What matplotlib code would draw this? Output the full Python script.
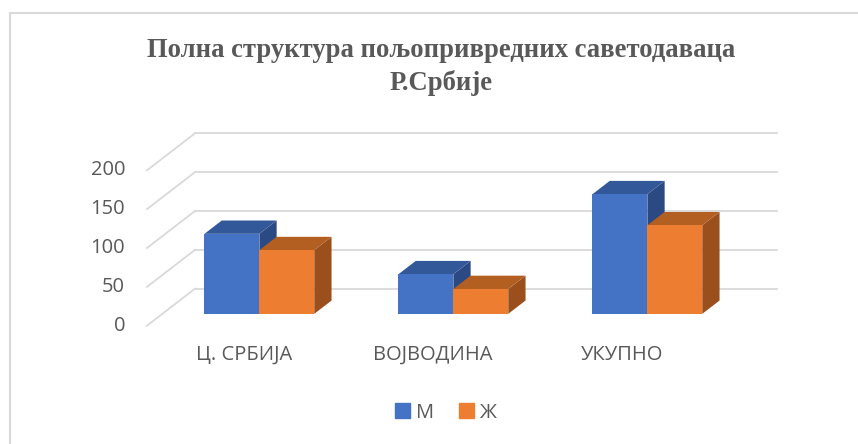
import matplotlib.pyplot as plt
from matplotlib.patches import Polygon, Rectangle, Patch

categories = ['Ц. СРБИЈА', 'ВОЈВОДИНА', 'УКУПНО']
series_names = ['М', 'Ж']
male = [103, 51, 154]
female = [82, 32, 114]
yticks = [0, 50, 100, 150, 200]

front_cols = ['#4472C4', '#ED7D31']
top_cols = ['#33589A', '#B45F22']
side_cols = ['#2B4A84', '#9A4F1C']

# oblique "3d" offsets in data units (full depth of the walls)
DX, DY = 0.2474, 47.6
Z0, Z1 = 0.32, 0.68   # bar depth range
BW = 0.283            # bar width in category units
GRID = '#d9d9d9'
TXT = '#595959'

fig = plt.figure(figsize=(8.58, 4.44), dpi=100)
ax = fig.add_axes([0, 0, 1, 1])
ax.set_xlim(-1.2577, 3.1649)
ax.set_ylim(-152.3, 419.2)
ax.axis('off')

# walls / gridlines
for v in yticks:
    ax.plot([-0.5, -0.5 + DX], [v, v + DY], color=GRID, lw=1.3, zorder=1)
    ax.plot([-0.5 + DX, 2.5 + DX], [v + DY, v + DY], color=GRID, lw=1.3, zorder=1)
    ax.text(-0.613, v, str(v), ha='right', va='center', fontsize=14.5,
            color=TXT, family='Open Sans')


def bar3d(x0, v, k):
    x1 = x0 + BW
    f = [(x0 + Z0 * DX, Z0 * DY), (x1 + Z0 * DX, Z0 * DY),
         (x1 + Z0 * DX, v + Z0 * DY), (x0 + Z0 * DX, v + Z0 * DY)]
    t = [(x0 + Z0 * DX, v + Z0 * DY), (x1 + Z0 * DX, v + Z0 * DY),
         (x1 + Z1 * DX, v + Z1 * DY), (x0 + Z1 * DX, v + Z1 * DY)]
    s = [(x1 + Z0 * DX, Z0 * DY), (x1 + Z1 * DX, Z1 * DY),
         (x1 + Z1 * DX, v + Z1 * DY), (x1 + Z0 * DX, v + Z0 * DY)]
    ax.add_patch(Polygon(s, closed=True, fc=side_cols[k], ec='none', zorder=3))
    ax.add_patch(Polygon(t, closed=True, fc=top_cols[k], ec='none', zorder=3))
    ax.add_patch(Polygon(f, closed=True, fc=front_cols[k], ec='none', zorder=3))


for i in range(len(categories)):
    bar3d(i - BW, male[i], 0)
    bar3d(i, female[i], 1)
    ax.text(i * 0.975, -37.7, categories[i], ha='center', va='center',
            fontsize=14.5, color=TXT, family='Open Sans')

fig.text(441.5 / 858, 1 - 67 / 444,
         'Полна структура пољопривредних саветодаваца\nР.Србије',
         ha='center', va='center', fontsize=19.2, fontweight='bold',
         color=TXT, family='Liberation Serif', linespacing=1.38)

handles = [Patch(color=front_cols[k], label=series_names[k]) for k in range(2)]
fig.legend(handles=handles, loc='center', bbox_to_anchor=(446 / 858, 1 - 412.7 / 444),
           ncol=2, frameon=False, handlelength=0.75, handleheight=0.75,
           handletextpad=0.3, columnspacing=1.2,
           prop={'family': 'Open Sans', 'size': 14.5}, labelcolor=TXT)

fig.patches.append(Rectangle((9.5 / 858, -0.1), 1.2, 1.1 - 13.5 / 444,
                             transform=fig.transFigure, fill=False,
                             ec=GRID, lw=1.5))

fig.savefig('out.png', dpi=100)
